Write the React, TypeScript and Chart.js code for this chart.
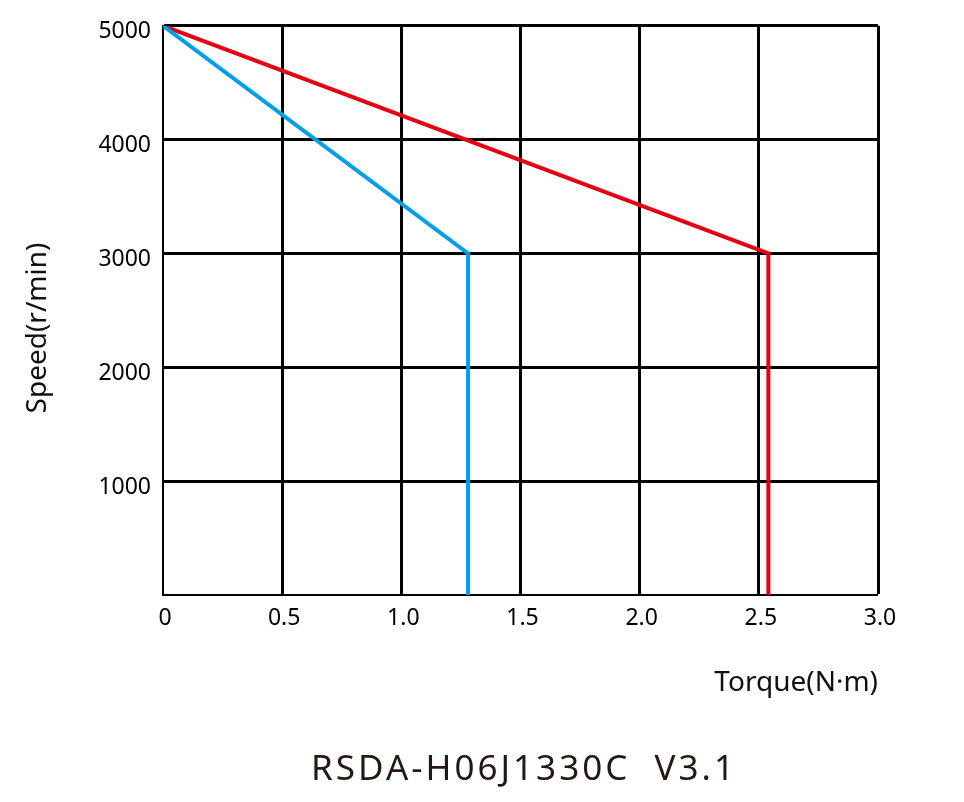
import React, { useEffect, useRef } from "react";
import { Chart, registerables } from "chart.js";

Chart.register(...registerables);

const ratedTorque = [0, 1.28, 1.28];
const ratedSpeed = [5000, 3000, 0];
const peakTorque = [0, 2.54, 2.54];
const peakSpeed = [5000, 3000, 0];
const xTicks = [0, 0.5, 1.0, 1.5, 2.0, 2.5, 3.0];
const yTicks = [1000, 2000, 3000, 4000, 5000];
const xTitle = "Torque(N·m)";
const yTitle = "Speed(r/min)";
const chartTitle = "RSDA-H06J1330C  V3.1";

const W = 964;
const H = 802;
const FONT = "'Noto Sans', 'DejaVu Sans', sans-serif";

const textPlugin = {
  id: "texts",
  afterDraw(chart: any) {
    const { ctx, chartArea } = chart;
    ctx.save();
    ctx.fillStyle = "#111";
    ctx.font = `28px ${FONT}`;
    ctx.textAlign = "right";
    ctx.textBaseline = "middle";
    ctx.fillText(xTitle, chartArea.right, 683);
    ctx.save();
    ctx.translate(38, 328);
    ctx.rotate(-Math.PI / 2);
    ctx.textAlign = "center";
    ctx.fillText(yTitle, 0, 0);
    ctx.restore();
    ctx.fillStyle = "#231815";
    ctx.font = `35px ${FONT}`;
    (ctx as any).letterSpacing = "3px";
    ctx.textAlign = "center";
    ctx.fillText(chartTitle, 524, 770);
    ctx.restore();
  },
};

export default function App() {
  const ref = useRef<HTMLCanvasElement | null>(null);
  useEffect(() => {
    if (!ref.current) return;
    const chart = new Chart(ref.current, {
      type: "line",
      data: {
        datasets: [
          {
            label: "rated",
            data: ratedTorque.map((x, i) => ({ x, y: ratedSpeed[i] })),
            borderColor: "#00a0e9",
            borderWidth: 4,
            pointRadius: 0,
            tension: 0,
            fill: false,
          },
          {
            label: "peak",
            data: peakTorque.map((x, i) => ({ x, y: peakSpeed[i] })),
            borderColor: "#e60012",
            borderWidth: 4,
            pointRadius: 0,
            tension: 0,
            fill: false,
          },
        ],
      },
      options: {
        animation: false,
        responsive: false,
        maintainAspectRatio: false,
        devicePixelRatio: 1,
        layout: { padding: { left: 0, top: 25, right: 86, bottom: 0 } },
        plugins: {
          legend: { display: false },
          tooltip: { enabled: false },
          title: { display: false },
        },
        scales: {
          x: {
            type: "linear",
            min: 0,
            max: 3,
            afterBuildTicks: (scale: any) => {
              scale.ticks = xTicks.map((v) => ({ value: v }));
            },
            afterFit: (scale: any) => {
              scale.height = H - 595;
            },
            ticks: {
              color: "#000",
              font: { family: FONT, size: 23 },
              padding: 10,
              labelOffset: 2,
              maxRotation: 0,
              callback: (v: any) => (Number(v) === 0 ? "0" : Number(v).toFixed(1)),
            },
            grid: {
              color: "#000",
              lineWidth: (c: any) => (c.index === 0 ? 0 : 3),
              drawTicks: false,
            },
            border: { display: true, color: "#000", width: 2 },
          },
          y: {
            type: "linear",
            min: 0,
            max: 5000,
            afterBuildTicks: (scale: any) => {
              scale.ticks = [0, ...yTicks].map((v) => ({ value: v }));
            },
            afterFit: (scale: any) => {
              scale.width = 163;
            },
            ticks: {
              color: "#000",
              font: { family: FONT, size: 23 },
              padding: 12,
              labelOffset: 6,
              callback: (v: any) => (Number(v) === 0 ? "" : String(v)),
            },
            grid: {
              color: "#000",
              lineWidth: (c: any) => (c.index === 0 ? 0 : 3),
              drawTicks: false,
            },
            border: { display: true, color: "#000", width: 2 },
          },
        },
      },
      plugins: [textPlugin],
    });
    return () => chart.destroy();
  }, []);
  return (
    <div style={{ position: "fixed", left: 0, top: 0, width: W, height: H, background: "#fff" }}>
      <canvas ref={ref} width={W} height={H} style={{ width: W, height: H, display: "block" }} />
    </div>
  );
}
